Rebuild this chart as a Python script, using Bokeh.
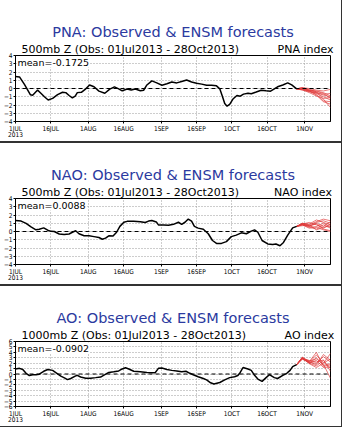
from bokeh.plotting import figure
from bokeh.models import Range1d, FixedTicker, Span, Label, Title
from bokeh.layouts import column
from bokeh.embed import file_html
from bokeh.resources import INLINE

# ---------------- data (day 0 = 1 Jul 2013) ----------------
tick_days = [0, 15, 31, 46, 62, 77, 92, 107, 123]
tick_labels = ["1JUL\n2013", "16JUL", "1AUG", "16AUG", "1SEP", "16SEP", "1OCT", "16OCT", "1NOV"]

pna_days = [0, 1.7, 3.8, 6.3, 7.3, 8.7, 9.4, 10.8, 12.3, 13.9, 15.8, 17.9, 20, 21.4, 22.8, 24.2,
            25.4, 26.3, 28, 29.9, 31.5, 33.4, 35.5, 38, 40.1, 42.1, 43.9, 45.4, 47.5, 49.2, 51,
            53.1, 54.5, 55.9, 58, 60.1, 62.3, 64.4, 66.5, 68.6, 70.7, 72.8, 74.9, 77, 79.2, 81.3,
            83.4, 85.5, 86.9, 88, 89, 90, 91.1, 92.5, 94.2, 95.6, 97, 98.9, 100.3, 102.4, 104.5,
            106.6, 108.5, 110.1, 111.5, 113.7, 115.8, 117.5, 119.6]
pna_vals = [1.46, 1.4, 0.5, -0.75, -0.82, -0.4, -0.2, -0.57, -1.0, -1.4, -1.2, -0.75, -0.46, -0.5,
            -0.85, -1.14, -0.93, -0.5, -0.46, -0.04, 0.43, 0.21, -0.32, -0.57, -0.07, 0.2, -0.04,
            -0.28, -0.07, -0.18, -0.07, -0.28, -0.21, 0.43, 0.93, 0.68, 0.39, 0.57, 0.78, 0.68,
            0.85, 1.03, 0.78, 0.64, 0.53, 0.39, 0.39, 0.32, -0.04, -0.93, -1.81, -2.14, -1.92,
            -1.28, -0.85, -0.93, -0.68, -0.57, -0.64, -0.43, -0.21, -0.28, -0.32, -0.04, 0.21,
            0.43, 0.68, 0.43, -0.04]

nao_days = [0, 2.4, 4.5, 6.6, 8.7, 10.1, 12, 13.7, 15.1, 16.5, 18.6, 20.7, 22.8, 24.2, 25.6, 27,
            29.2, 31.3, 33.4, 35.5, 36.9, 38.3, 39.7, 41.5, 43, 44.4, 46.1, 47.5, 50.3, 53.1, 55.2,
            56.6, 58, 59.9, 60.8, 63, 65.1, 67.2, 69.3, 70.7, 72.1, 73.5, 74.9, 76.1, 77.7, 79.9,
            82, 83.8, 85.5, 87.6, 89.7, 91.8, 93.9, 96.1, 98.2, 100.3, 101.7, 103.1, 104.9, 107.3,
            109.4, 110.8, 112.5, 114, 115.8, 117.9, 119.6]
nao_vals = [1.33, 1.26, 0.98, 0.55, 0.2, 0.27, 0.44, 0.16, 0.02, 0.0, -0.3, -0.37, -0.3, -0.09,
            0.09, -0.27, -0.52, -0.52, -0.62, -0.73, -0.94, -0.8, -0.52, -0.55, -0.09, 0.62, 1.12,
            1.23, 1.23, 1.19, 1.09, 1.26, 1.33, 1.16, 0.8, 0.8, 0.77, 0.87, 1.12, 0.87, 1.12, 1.51,
            1.26, 0.62, 0.41, 0.27, -0.27, -1.09, -1.44, -1.44, -1.23, -0.62, -0.44, -0.16, -0.27,
            0.05, 0.2, -0.09, -1.09, -1.51, -1.58, -1.51, -1.73, -1.33, -0.44, 0.44, 0.62]

ao_days = [0, 1.7, 3.1, 4.5, 5.9, 7.3, 8.7, 10.1, 12, 13.7, 15.8, 17.6, 19.3, 21, 22.1, 23.5,
           25.4, 26.3, 27.7, 29.9, 32, 34.1, 36.2, 38, 39.7, 41.8, 43.9, 45.4, 46.8, 48.2, 50.3,
           53.1, 55.9, 59.4, 60.8, 62.3, 64.4, 66.5, 68.6, 70.7, 72.5, 74.2, 75.6, 77.7, 79.9,
           81.3, 83, 84.4, 86.9, 89, 91.1, 93.2, 94.6, 95.6, 96.8, 98.9, 100.3, 101.7, 103.1,
           104.9, 106.6, 108, 110.1, 111.5, 113.7, 115.4, 116.8, 117.9, 119.6]
ao_vals = [0.93, 1.04, 0.83, 0.13, -0.29, -0.13, -0.13, -0.03, 0.5, 0.83, 0.67, 0.13, -0.4, -0.77,
           -1.04, -0.83, -0.4, -0.24, -0.56, -0.77, -0.77, -0.67, -0.56, -0.13, 0.29, 0.4, 0.56,
           0.93, 1.15, 0.93, 0.5, 0.4, 0.29, 0.24, 1.04, 1.09, 0.83, 0.67, 0.56, 0.4, 0.5, 0.13,
           -0.13, -0.51, -0.83, -1.09, -1.63, -1.84, -1.57, -1.09, -0.67, -0.51, -0.29, 0.29, 1.2,
           0.93, 0.67, -0.24, -0.93, -1.36, -0.67, -0.13, -0.67, -0.83, -0.24, 0.13, 0.67, 1.36,
           1.73]

fc_days = [119.6, 122, 125, 128, 131, 134]
pna_fc = [
    [-0.04, 0.1, -0.2, -0.3, -0.5, -0.9],
    [-0.04, -0.1, -0.3, -0.6, -1.0, -1.4],
    [-0.04, 0.05, -0.1, -0.4, -1.3, -2.3],
    [-0.04, -0.2, -0.4, -0.5, -0.8, -1.0],
    [-0.04, 0.1, 0.0, -0.2, -0.3, -0.1],
    [-0.04, -0.1, -0.3, -0.8, -1.6, -1.9],
    [-0.04, 0.0, -0.2, -0.5, -0.7, -0.6],
    [-0.04, -0.15, -0.5, -0.9, -1.2, -1.1],
    [-0.04, 0.05, -0.25, -0.35, -0.6, -1.2],
    [-0.04, -0.05, -0.35, -0.7, -1.5, -1.6],
]
nao_fc = [
    [0.62, 0.9, 0.7, 1.0, 0.6, 1.2],
    [0.62, 0.8, 0.5, 0.3, 0.8, 0.4],
    [0.62, 1.0, 0.9, 1.4, 1.1, 0.8],
    [0.62, 0.9, 0.6, 0.5, 0.2, 0.0],
    [0.62, 0.7, 0.8, 1.2, 1.5, 1.3],
    [0.62, 0.9, 1.1, 0.8, 0.4, 0.9],
    [0.62, 0.8, 0.4, 0.6, 1.0, 0.5],
    [0.62, 1.0, 0.7, 0.9, 0.3, 0.1],
    [0.62, 0.85, 0.6, 1.1, 1.3, 1.0],
    [0.62, 0.95, 0.8, 0.2, 0.5, 0.7],
]
ao_fc = [
    [1.73, 2.8, 2.2, 3.5, 2.0, 3.8],
    [1.73, 3.0, 2.0, 1.5, 2.5, 1.0],
    [1.73, 2.9, 2.4, 2.8, 1.8, -0.8],
    [1.73, 3.1, 2.1, 2.0, 3.2, 2.2],
    [1.73, 2.7, 2.3, 4.0, 1.4, 1.7],
    [1.73, 3.0, 1.9, 1.2, 2.0, 2.8],
    [1.73, 2.9, 2.5, 2.2, 2.6, 0.5],
    [1.73, 2.8, 2.0, 3.0, 1.6, 1.9],
    [1.73, 3.1, 2.3, 1.7, 3.6, 2.5],
    [1.73, 2.9, 2.1, 2.5, 1.2, 1.3],
]

panels = [
    ("PNA", "500mb Z (Obs: 01Jul2013 - 28Oct2013)", "PNA index", "mean=-0.1725", 4, pna_days, pna_vals, pna_fc, 11, 141),
    ("NAO", "500mb Z (Obs: 01Jul2013 - 28Oct2013)", "NAO index", "mean=0.0088", 4, nao_days, nao_vals, nao_fc, 10, 141),
    ("AO", "1000mb Z (Obs: 01Jul2013 - 28Oct2013)", "AO index", "mean=-0.0902", 6, ao_days, ao_vals, ao_fc, 11, 140),
]

FONT = "DejaVu Sans"
SMALL = "'Liberation Sans Narrow', 'DejaVu Sans Condensed', 'Liberation Sans', sans-serif"
NBSP = "\u00a0"


def make_panel(name, sub, idx, mean_txt, lim, days, vals, fc, npad, h):
    p = figure(width=341, height=h, output_backend="svg", toolbar_location=None,
               x_range=Range1d(0, 134), y_range=Range1d(-lim, lim),
               min_border_left=13, min_border_right=11, min_border_top=10, min_border_bottom=10)
    p.styles = {"outline": "1px solid #333"}
    p.outline_line_color = "black"
    p.outline_line_width = 1
    p.outline_line_alpha = 1
    p.background_fill_color = "white"
    p.border_fill_color = "white"

    p.add_layout(Title(text=sub + NBSP * npad + idx, align="left", offset=6, standoff=0,
                       text_font=FONT, text_font_size="11px", text_font_style="normal",
                       text_color="black"), "above")
    p.add_layout(Title(text=name + ": Observed & ENSM forecasts", align="center", offset=16,
                       standoff=1, text_font=FONT, text_font_size="14.5px",
                       text_font_style="normal", text_color="#2b3aa0"), "above")
    p.add_layout(Title(text=NBSP, align="center", standoff=10, text_font=FONT,
                       text_font_size="8px", text_font_style="normal"), "above")

    p.xaxis.ticker = FixedTicker(ticks=tick_days, minor_ticks=[])
    p.xaxis.major_label_overrides = {d: t for d, t in zip(tick_days, tick_labels)}
    p.yaxis.ticker = FixedTicker(ticks=list(range(-lim, lim + 1)), minor_ticks=[])
    for ax in (p.xaxis, p.yaxis):
        ax.major_label_text_font = SMALL
        ax.major_label_text_font_size = "6.5px"
        ax.major_label_text_color = "black"
        ax.major_label_standoff = 1
        ax.major_tick_out = 2
        ax.major_tick_in = 0
        ax.minor_tick_line_color = None
        ax.axis_line_color = "black"
        ax.major_tick_line_color = "black"
    p.xaxis.major_label_text_line_height = 0.8
    p.xgrid.ticker = FixedTicker(ticks=tick_days)
    p.ygrid.ticker = FixedTicker(ticks=list(range(-lim, lim + 1)))
    for g in (p.xgrid, p.ygrid):
        g.grid_line_color = "#9a9a9a"
        g.grid_line_dash = "1 2"
        g.grid_line_width = 1

    p.add_layout(Span(location=0, dimension="width", line_color="black",
                      line_dash="4 3", line_width=1))

    p.multi_line(xs=[fc_days] * len(fc), ys=fc, line_color="#e03a3a", line_width=0.8, line_alpha=0.85)
    p.line(days, vals, line_color="black", line_width=1.5)

    p.add_layout(Label(x=2, y=lim, x_units="screen", y_units="data", y_offset=-1, text=mean_txt,
                       text_align="left", text_baseline="top", text_font=FONT,
                       text_font_size="9.5px", text_color="black",
                       background_fill_color="white", background_fill_alpha=1))
    return p


figs = [make_panel(*pn) for pn in panels]
layout = column(*figs, spacing=2)

open("out.html", "w").write(file_html(layout, INLINE))
